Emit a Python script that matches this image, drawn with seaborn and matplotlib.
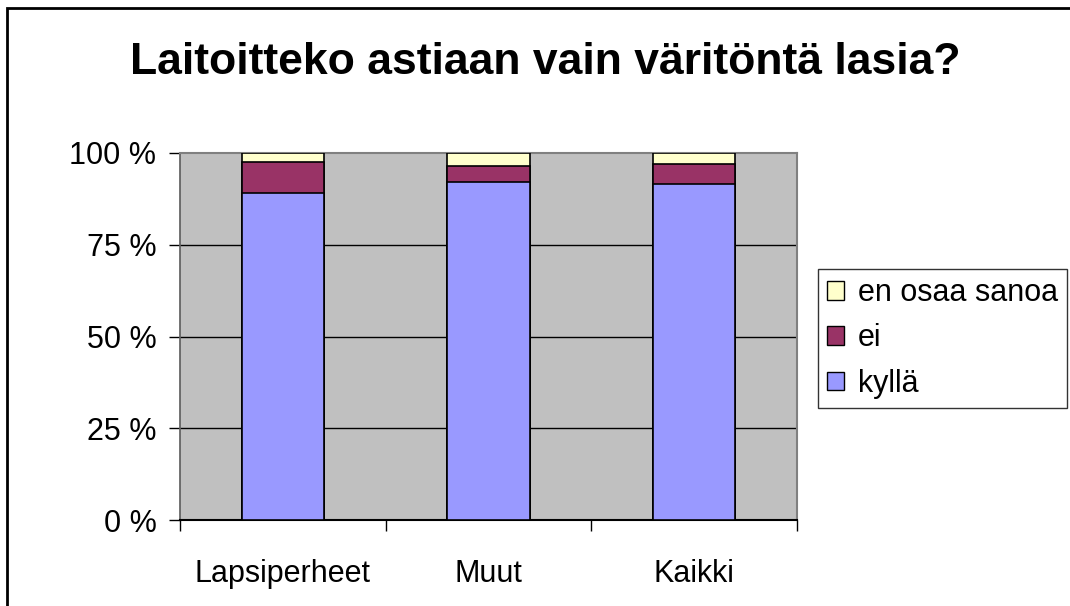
"""Laitoitteko astiaan vain väritöntä lasia? - 100 % stacked bar chart."""

import matplotlib

matplotlib.use("Agg")

import matplotlib.pyplot as plt
import numpy as np
import pandas as pd
import seaborn as sns
from matplotlib.patches import Patch, Rectangle

GROUPS = ["Lapsiperheet", "Muut", "Kaikki"]
KYLLA = [89.0, 92.0, 91.5]
EI = [8.5, 4.5, 5.5]
EOS = [2.5, 3.5, 3.0]

SERIES_LABELS = ["en osaa sanoa", "ei", "kyllä"]
COLORS = {"kyllä": "#9999FF", "ei": "#993366", "en osaa sanoa": "#FFFFCC"}


def main() -> None:
    sns.set_theme(style="white")
    plt.rcParams["font.family"] = ["Liberation Sans", "DejaVu Sans"]
    plt.rcParams["text.color"] = "black"
    plt.rcParams["xtick.color"] = "black"
    plt.rcParams["ytick.color"] = "black"

    df = pd.DataFrame({"group": GROUPS, "kyllä": KYLLA, "ei": EI, "en osaa sanoa": EOS})
    df["top_ei"] = df["kyllä"] + df["ei"]
    df["top_eos"] = df["top_ei"] + df["en osaa sanoa"]

    fig = plt.figure(figsize=(10.7, 6.06), dpi=100)
    ax = fig.add_axes([180 / 1070, 1 - 520 / 606, 617 / 1070, 367 / 606])
    ax.set_facecolor("#C0C0C0")

    # draw cumulative tops first so lower segments sit on top
    for col, name in [("top_eos", "en osaa sanoa"), ("top_ei", "ei"), ("kyllä", "kyllä")]:
        sns.barplot(
            data=df, x="group", y=col, ax=ax, color=COLORS[name],
            width=0.4, edgecolor="black", linewidth=1.2, saturation=1, zorder=3,
        )

    ax.set_ylim(0, 100)
    ax.set_xlim(-0.5, 2.5)
    ax.set_yticks([0, 25, 50, 75, 100])
    ax.set_yticklabels(["0 %", "25 %", "50 %", "75 %", "100 %"], fontsize=22)
    for y in [25, 50, 75]:
        ax.axhline(y, color="black", linewidth=1, zorder=1)
    ax.set_xlabel("")
    ax.set_ylabel("")

    ax.set_xticks(np.arange(-0.5, 3, 1), minor=True)
    ax.tick_params(axis="x", which="minor", length=8, width=1, color="black", bottom=True)
    ax.tick_params(axis="x", which="major", length=0, pad=28, labelsize=22)
    ax.tick_params(axis="y", length=8, width=1, color="black", pad=9, left=True)

    for side in ["top", "right"]:
        ax.spines[side].set_color("#808080")
        ax.spines[side].set_linewidth(1.5)
    ax.spines["left"].set_color("#606060")
    ax.spines["bottom"].set_color("black")
    ax.spines["bottom"].set_linewidth(1.5)

    fig.text(545 / 1070, 1 - 62 / 606, "Laitoitteko astiaan vain väritöntä lasia?",
             ha="center", va="center", fontsize=32, fontweight="bold", color="black")

    handles = [Patch(facecolor=COLORS[n], edgecolor="black", linewidth=1) for n in SERIES_LABELS]
    leg = fig.legend(handles, SERIES_LABELS, loc="upper left",
                     bbox_to_anchor=(818 / 1070, 1 - 269 / 606), fontsize=22,
                     frameon=True, fancybox=False, shadow=False, handlelength=0.55,
                     handleheight=0.55, handletextpad=0.45, labelspacing=0.5,
                     borderpad=0.3, borderaxespad=0)
    leg.get_frame().set_edgecolor("black")
    leg.get_frame().set_linewidth(1)

    fig.patches.append(Rectangle((7 / 1070, -0.01), 1.05, 1 - 8 / 606 + 0.01,
                                 transform=fig.transFigure, fill=False,
                                 edgecolor="black", linewidth=2))

    fig.savefig("out.png", dpi=100)
    plt.close(fig)


if __name__ == "__main__":
    main()
